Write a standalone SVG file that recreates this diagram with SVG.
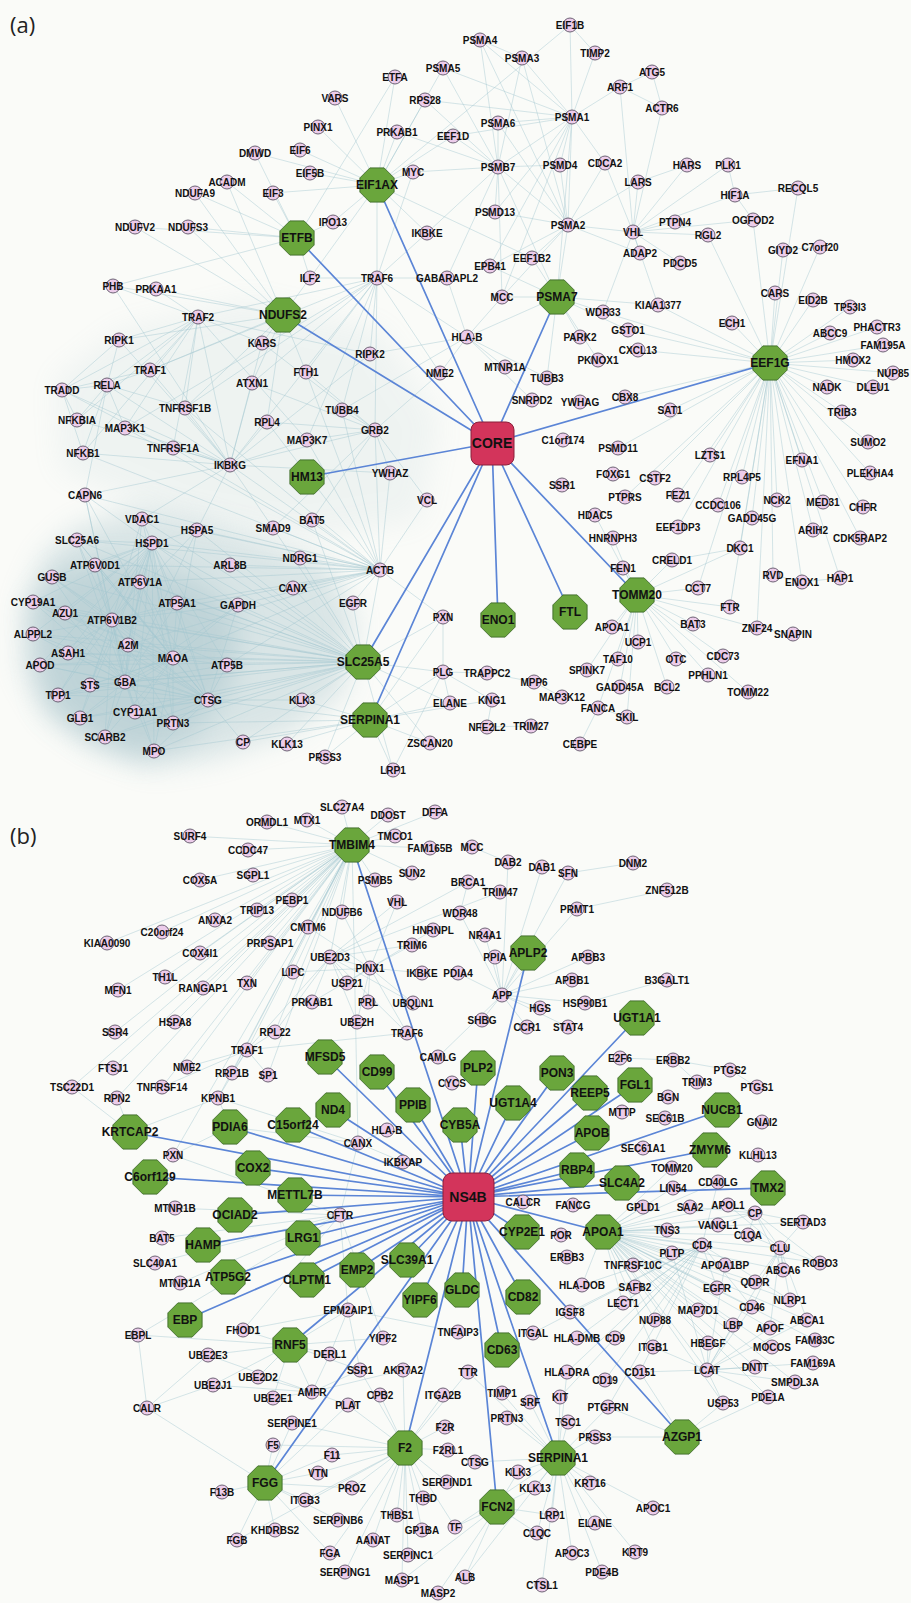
<svg xmlns="http://www.w3.org/2000/svg" xmlns:xlink="http://www.w3.org/1999/xlink" width="911" height="1603" viewBox="0 0 911 1603">
<style>
.n circle{fill:#ecccea;stroke:#5d5566;stroke-width:.9}
.n text{font:bold 10px "Liberation Sans",Arial,sans-serif;fill:#111;text-anchor:middle;dominant-baseline:central}
.g use{fill:#6aa63c;stroke:#3d6b28;stroke-width:.9}
.g text{font:bold 12px "Liberation Sans",Arial,sans-serif;fill:#111;text-anchor:middle;dominant-baseline:central}
.hub rect{fill:#d3345b;stroke:#8a1f3a;stroke-width:1}
.hub text{font:bold 14px "Liberation Sans",Arial,sans-serif;fill:#111;text-anchor:middle;dominant-baseline:central}
.e{fill:none;stroke:#a3c6d0;stroke-width:.6;opacity:.75}
.h{fill:none;stroke:#5b85d6;stroke-width:1.7}
.blob{fill:#8fb3bd;filter:url(#bl)}
.pl{font:22px "Open Sans","Liberation Sans",sans-serif;fill:#222}
</style>
<defs>
<polygon id="oct" points="17.1,7.1 7.1,17.1 -7.1,17.1 -17.1,7.1 -17.1,-7.1 -7.1,-17.1 7.1,-17.1 17.1,-7.1"/>
<filter id="bl" x="-20%" y="-20%" width="140%" height="140%"><feGaussianBlur stdDeviation="14"/></filter>
</defs>
<rect width="911" height="1603" fill="#fafbf8"/>
<text class="pl" x="10" y="33">(a)</text>
<text class="pl" x="10" y="844">(b)</text>
<g id="connectors">
<polygon class="blob" opacity=".3" points="25,600 45,555 75,528 140,508 200,520 260,540 330,565 355,620 345,690 295,730 215,758 150,768 95,748 50,718 22,670"/>
<polygon class="blob" opacity=".35" points="30,610 60,570 120,560 200,580 240,620 230,690 190,740 140,758 90,740 45,705"/>
<polygon class="blob" opacity=".1" points="55,380 120,330 250,300 380,330 440,420 420,520 300,540 180,520 60,470"/>
<path class="e" d="M770 363L775 293M770 363L813 300M770 363L850 307M770 363L830 333M770 363L877 327M770 363L883 345M770 363L853 360M770 363L895 373M770 363L827 387M770 363L873 387M770 363L842 412M770 363L868 442M770 363L802 460M770 363L870 473M770 363L823 502M770 363L863 507M770 363L777 500M770 363L813 530M770 363L860 538M770 363L752 518M770 363L718 505M770 363L742 477M770 363L710 455M770 363L670 410M770 363L678 495M770 363L655 478M770 363L732 323M770 363L658 305M770 363L638 350M770 363L628 330M770 363L740 548M770 363L698 588M770 363L730 607M770 363L773 575M770 363L802 582M770 363L678 527M770 363L618 448M770 363L625 397M770 363L625 497M770 363L840 578M770 363L757 628M770 363L798 188M770 363L753 220M770 363L783 250M770 363L820 247M770 363L708 235M770 363L603 312"/>
<path class="e" d="M363 662L177 603M363 662L227 665M363 662L173 658M363 662L238 605M363 662L293 588M363 662L353 603M363 662L380 570M363 662L300 558M363 662L230 565M363 662L140 582M363 662L112 620M363 662L128 645M363 662L125 682M363 662L90 685M363 662L135 712M363 662L173 723M363 662L154 751M363 662L208 700M363 662L152 543M363 662L142 519M363 662L197 530M363 662L302 700M363 662L77 540M363 662L95 565M363 662L243 742M363 662L287 744M363 662L325 757M363 662L58 695M363 662L68 653M363 662L80 718M363 662L105 737M363 662L65 613M363 662L40 665M363 662L33 634M363 662L52 577M363 662L33 602M363 662L443 617M363 662L443 672M363 662L450 703M363 662L393 770M363 662L430 743M363 662L273 528M363 662L312 520"/>
<path class="e" d="M380 570L152 543M380 570L142 519M380 570L197 530M380 570L293 588M380 570L238 605M380 570L230 565M380 570L300 558M380 570L312 520M380 570L273 528M380 570L390 473M380 570L427 500M380 570L375 430M380 570L307 440M380 570L230 465M380 570L173 448M380 570L267 422M380 570L177 603M380 570L140 582M380 570L95 565M380 570L77 540M380 570L85 495M380 570L342 410M380 570L353 603M380 570L443 617M380 570L227 665M380 570L173 658M380 570L306 372M380 570L185 408M380 570L125 428M380 570L83 453M380 570L112 620M380 570L128 645"/>
<path class="e" d="M173 658L77 540M173 658L152 543M173 658L95 565M173 658L52 577M173 658L140 582M173 658L33 602M173 658L65 613M173 658L177 603M173 658L112 620M173 658L33 634M173 658L128 645M173 658L68 653M173 658L40 665M173 658L90 685M173 658L125 682M173 658L58 695M173 658L135 712M173 658L80 718M173 658L173 723M173 658L105 737M173 658L154 751M173 658L208 700M173 658L227 665M173 658L238 605M173 658L85 495M173 658L142 519M173 658L197 530"/>
<path class="e" d="M125 682L77 540M125 682L152 543M125 682L95 565M125 682L52 577M125 682L140 582M125 682L33 602M125 682L65 613M125 682L177 603M125 682L112 620M125 682L33 634M125 682L128 645M125 682L68 653M125 682L40 665M125 682L90 685M125 682L58 695M125 682L135 712M125 682L80 718M125 682L173 723M125 682L105 737M125 682L154 751M125 682L208 700M125 682L227 665M125 682L238 605M125 682L85 495M125 682L142 519M125 682L197 530"/>
<path class="e" d="M112 620L77 540M112 620L152 543M112 620L95 565M112 620L52 577M112 620L140 582M112 620L33 602M112 620L65 613M112 620L177 603M112 620L33 634M112 620L128 645M112 620L68 653M112 620L40 665M112 620L90 685M112 620L58 695M112 620L135 712M112 620L80 718M112 620L173 723M112 620L105 737M112 620L154 751M112 620L208 700M112 620L227 665M112 620L238 605M112 620L85 495M112 620L142 519M112 620L197 530"/>
<path class="e" d="M152 543L77 540M152 543L95 565M152 543L52 577M152 543L140 582M152 543L33 602M152 543L65 613M152 543L177 603M152 543L33 634M152 543L128 645M152 543L68 653M152 543L40 665M152 543L90 685M152 543L58 695M152 543L135 712M152 543L80 718M152 543L173 723M152 543L105 737M152 543L154 751M152 543L208 700M152 543L227 665M152 543L238 605M152 543L85 495M152 543L142 519M152 543L197 530"/>
<path class="e" d="M208 700L77 540M208 700L95 565M208 700L52 577M208 700L140 582M208 700L33 602M208 700L65 613M208 700L177 603M208 700L33 634M208 700L128 645M208 700L68 653M208 700L40 665M208 700L90 685M208 700L58 695M208 700L135 712M208 700L80 718M208 700L173 723M208 700L105 737M208 700L154 751M208 700L227 665M208 700L238 605M208 700L302 700M208 700L243 742"/>
<path class="e" d="M198 317L119 340M198 317L62 390M198 317L150 370M198 317L185 408M198 317L173 448M198 317L125 428M198 317L230 465M198 317L370 354M198 317L307 440M198 317L377 278M198 317L83 453M198 317L107 385M198 317L156 289M198 317L113 286M198 317L77 420M198 317L262 343"/>
<path class="e" d="M230 465L77 420M230 465L83 453M230 465L107 385M230 465L62 390M230 465L125 428M230 465L307 440M230 465L119 340M230 465L370 354M230 465L377 278M230 465L173 448M230 465L185 408M230 465L150 370M230 465L252 383M230 465L267 422M230 465L197 530M230 465L142 519M230 465L85 495M230 465L390 473M230 465L375 430M230 465L273 528M230 465L262 343M230 465L113 286"/>
<path class="e" d="M377 278L307 440M377 278L370 354M377 278L150 370M377 278L185 408M377 278L125 428M377 278L310 278M377 278L447 278M377 278L440 373M377 278L467 337M377 278L342 410M377 278L375 430M377 278L252 383M377 278L306 372M377 278L427 233M377 278L413 172"/>
<path class="e" d="M375 430L390 473M375 430L342 410M375 430L427 500M375 430L273 528M375 430L440 373M375 430L307 440M375 430L252 383M375 430L262 343M375 430L306 372M375 430L312 520M375 430L267 422"/>
<path class="e" d="M283 315L195 193M283 315L135 227M283 315L188 227M283 315L227 182M283 315L262 343M283 315L310 278M283 315L306 372M283 315L119 340M283 315L113 286M283 315L156 289M283 315L252 383M283 315L267 422M283 315L185 408M283 315L150 370"/>
<path class="e" d="M297 238L395 77M297 238L227 182M297 238L195 193M297 238L188 227M297 238L135 227M297 238L255 153M297 238L273 193M297 238L333 222M297 238L310 278M297 238L113 286"/>
<path class="e" d="M62 390L119 340M62 390L107 385M62 390L77 420M62 390L173 448M62 390L83 453M62 390L150 370M107 385L77 420M107 385L83 453M107 385L125 428M107 385L119 340M107 385L150 370M107 385L185 408M107 385L85 495"/>
<path class="e" d="M377 185L273 193M377 185L310 173M377 185L300 150M377 185L318 127M377 185L335 98M377 185L395 77M377 185L425 100M377 185L397 132M377 185L413 172M377 185L453 136M377 185L333 222M377 185L427 233M377 185L570 25M377 185L532 258M377 185L443 68M377 185L255 153M377 185L310 278M377 185L377 278"/>
<path class="e" d="M572 117L480 40M572 117L522 58M572 117L443 68M572 117L498 123M572 117L498 167M572 117L560 165M572 117L495 212M572 117L568 225M572 117L557 297M572 117L570 25M572 117L595 53M572 117L605 163M572 117L453 136M572 117L490 266M572 117L502 297M572 117L425 100M572 117L620 87"/>
<path class="e" d="M498 167L480 40M498 167L522 58M498 167L443 68M498 167L498 123M498 167L560 165M498 167L495 212M498 167L568 225M498 167L557 297M498 167L453 136M498 167L425 100M498 167L502 297M498 167L447 278M498 167L427 233M498 167L413 172M498 167L397 132"/>
<path class="e" d="M568 225L522 58M568 225L498 123M568 225L560 165M568 225L495 212M568 225L557 297M568 225L633 232M568 225L640 253M568 225L638 182M568 225L605 163M568 225L532 258M568 225L490 266M568 225L502 297M568 225L480 40"/>
<path class="e" d="M633 232L735 195M633 232L675 222M633 232L708 235M633 232L680 263M633 232L640 253M633 232L753 220M633 232L638 182M633 232L687 165M633 232L728 165M633 232L620 87M633 232L662 108M633 232L605 163M633 232L603 312M633 232L658 305M620 87L652 72M652 72L662 108M620 87L662 108M687 165L638 182M728 165L735 195M735 195L798 188M570 25L595 53M480 40L522 58M735 195L753 220M783 250L820 247"/>
<path class="e" d="M467 337L440 373M467 337L505 367M467 337L547 378M467 337L532 400M467 337L370 354M467 337L447 278M467 337L502 297M467 337L342 410M467 337L557 297M557 297L603 312M557 297L580 337M557 297L598 360M557 297L628 330M557 297L502 297M557 297L547 378M557 297L490 266M557 297L532 258M557 297L658 305"/>
<path class="e" d="M370 720L450 703M370 720L302 700M370 720L287 744M370 720L325 757M370 720L208 700M370 720L443 672M370 720L393 770M370 720L430 743M370 720L492 700M370 720L243 742M370 720L173 723M370 720L154 751M370 720L443 617M443 672L492 700M443 672L450 703M443 672L487 673M443 672L443 617M443 672L393 770"/>
<path class="e" d="M637 595L623 568M637 595L672 560M637 595L698 588M637 595L730 607M637 595L693 624M637 595L612 627M637 595L638 642M637 595L618 659M637 595L676 659M637 595L723 656M637 595L587 670M637 595L620 687M637 595L667 687M637 595L708 675M637 595L748 692M637 595L757 628M637 595L740 548M637 595L613 538M637 595L595 515M637 595L627 717M637 595L598 708M773 575L802 582M840 578L802 582M740 548L672 560M793 634L757 628M562 697L534 682M531 726L487 727M492 700L487 727M580 744L598 708M627 717L598 708M487 673L534 682"/>
<path class="e" d="M352 845L190 836M352 845L248 850M352 845L200 880M352 845L253 875M352 845L292 900M352 845L257 910M352 845L215 920M352 845L162 932M352 845L107 943M352 845L200 953M352 845L270 943M352 845L308 927M352 845L342 912M352 845L165 977M352 845L118 990M352 845L203 988M352 845L247 983M352 845L293 972M352 845L115 1032M352 845L175 1022M352 845L275 1032M352 845L113 1068M352 845L72 1087M352 845L267 822M352 845L307 820M352 845L342 807M352 845L388 815M352 845L435 812M352 845L395 836M352 845L430 848M352 845L375 880M352 845L412 873M352 845L330 957M352 845L187 1067M352 845L162 1087M352 845L117 1098M352 845L218 1098M352 845L173 1155M352 845L358 1143M352 845L232 1073M352 845L268 1075M352 845L247 1050"/>
<path class="e" d="M370 968L347 983M370 968L330 957M370 968L293 972M370 968L312 1002M370 968L368 1002M370 968L413 1003M370 968L422 973M370 968L412 945M370 968L433 930M370 968L397 902M370 968L342 912M370 968L308 927M370 968L357 1022M370 968L407 1033M330 957L412 945M330 957L407 1033M330 957L357 1022M330 957L347 983M330 957L397 902M330 957L468 882M330 957L500 892M330 957L413 1003M330 957L312 1002M330 957L275 1032M330 957L247 1050"/>
<path class="e" d="M502 995L528 953M502 995L572 980M502 995L588 957M502 995L585 1003M502 995L540 1008M502 995L495 957M502 995L482 1020M502 995L485 935M502 995L568 1027M502 995L527 1027M502 995L577 909M502 995L542 867M502 995L508 862M502 995L568 873M502 995L458 973M502 995L460 913M502 995L438 1057M472 847L508 862M468 882L500 892M468 882L460 913M667 890L577 909M667 980L585 1003M620 1058L673 1060M673 1060L730 1070M730 1070L757 1087M697 1082L673 1060M568 873L633 863"/>
<path class="e" d="M247 1050L187 1067M247 1050L232 1073M247 1050L268 1075M247 1050L275 1032M247 1050L162 1087M247 1050L218 1098M247 1050L407 1033M358 1143L387 1130M358 1143L403 1162M358 1143L340 1215M358 1143L218 1098M340 1215L175 1208M340 1215L162 1238M340 1215L155 1263M340 1215L180 1283M340 1215L173 1155M340 1215L348 1310M340 1215L243 1330M340 1215L138 1335M340 1215L383 1338M348 1310L458 1332M348 1310L330 1354M348 1310L243 1330M348 1310L360 1370M130 1132L117 1098M130 1132L72 1087M130 1132L218 1098M230 1127L358 1143M230 1127L218 1098M230 1127L173 1155"/>
<path class="e" d="M603 1232L728 1205M603 1232L755 1213M603 1232L748 1235M603 1232L780 1248M603 1232L702 1245M603 1232L672 1253M603 1232L707 1370M603 1232L770 1328M603 1232L807 1320M603 1232L733 1325M603 1232L725 1265M603 1232L667 1230M603 1232L690 1207M603 1232L643 1207M603 1232L783 1270M603 1232L755 1282M603 1232L752 1307M603 1232L790 1300M603 1232L718 1225M603 1232L717 1288M603 1232L633 1265M603 1232L635 1287M603 1232L582 1285M603 1232L623 1303M603 1232L698 1310M603 1232L655 1320M603 1232L653 1347M603 1232L708 1343M603 1232L772 1347M603 1232L815 1340M603 1232L795 1382M603 1232L755 1367M603 1232L723 1403M603 1232L768 1397M603 1232L803 1222M603 1232L820 1263M603 1232L718 1182M603 1232L673 1188M603 1232L672 1168"/>
<path class="e" d="M707 1370L770 1328M707 1370L807 1320M707 1370L733 1325M707 1370L780 1248M707 1370L672 1253M707 1370L725 1265M707 1370L752 1307M707 1370L755 1367M707 1370L813 1363M707 1370L795 1382M707 1370L768 1397M707 1370L723 1403M707 1370L640 1372M707 1370L653 1347M707 1370L708 1343M702 1245L582 1285M702 1245L577 1338M702 1245L567 1372M702 1245L615 1338M702 1245L605 1380M702 1245L533 1333M702 1245L570 1312M702 1245L623 1303M702 1245L717 1288M702 1245L790 1300M702 1245L752 1307M702 1245L718 1182M702 1245L640 1372M702 1245L560 1397M702 1245L608 1407"/>
<path class="e" d="M755 1213L748 1235M755 1213L780 1248M755 1213L728 1205M755 1213L803 1222M755 1213L820 1263M755 1213L783 1270M755 1213L718 1225M755 1213L690 1207M780 1248L783 1270M780 1248L807 1320M780 1248L770 1328M780 1248L755 1282M780 1248L790 1300M780 1248L752 1307M780 1248L820 1263M780 1248L803 1222M780 1248L748 1235M780 1248L728 1205"/>
<path class="e" d="M405 1448L445 1427M405 1448L448 1450M405 1448L273 1445M405 1448L332 1455M405 1448L423 1498M405 1448L408 1555M405 1448L447 1482M405 1448L397 1515M405 1448L352 1488M405 1448L318 1473M405 1448L422 1530M405 1448L348 1405M405 1448L380 1395M405 1448L443 1395M405 1448L305 1500M405 1448L330 1553M405 1448L237 1540M405 1448L292 1423M405 1448L455 1527M405 1448L373 1540M405 1448L402 1580M405 1448L345 1572M405 1448L360 1370M405 1448L403 1370M405 1448L468 1372"/>
<path class="e" d="M265 1483L330 1553M265 1483L237 1540M265 1483L222 1492M265 1483L305 1500M265 1483L318 1473M265 1483L275 1530M265 1483L338 1520M265 1483L273 1445M265 1483L332 1455M265 1483L348 1405M265 1483L292 1423M265 1483L352 1488M265 1483L147 1408M290 1345L208 1355M290 1345L258 1377M290 1345L213 1385M290 1345L312 1392M290 1345L273 1398M290 1345L330 1354M290 1345L360 1370M290 1345L243 1330M290 1345L138 1335M290 1345L348 1310M290 1345L383 1338M312 1392L258 1377M312 1392L273 1398M312 1392L213 1385M312 1392L330 1354M312 1392L208 1355M312 1392L360 1370M312 1392L403 1370M312 1392L348 1405M147 1408L138 1335M147 1408L213 1385M147 1408L208 1355"/>
<path class="e" d="M558 1458L475 1462M558 1458L518 1472M558 1458L535 1488M558 1458L590 1483M558 1458L595 1523M558 1458L552 1515M558 1458L507 1418M558 1458L595 1437M558 1458L568 1422M558 1458L560 1397M558 1458L530 1402M558 1458L502 1393M558 1458L653 1508M558 1458L537 1533M558 1458L465 1577M558 1458L455 1527M558 1458L542 1585M558 1458L572 1553M558 1458L635 1552M558 1458L602 1572M558 1458L468 1372M558 1458L567 1372M558 1458L608 1407M497 1507L537 1533M497 1507L552 1515M497 1507L455 1527M497 1507L465 1577M497 1507L402 1580M497 1507L438 1593M497 1507L535 1488M497 1507L518 1472M682 1437L723 1403M682 1437L608 1407M682 1437L640 1372M682 1437L595 1437M682 1437L768 1397"/>
<path class="h" d="M492 443L377 185M492 443L297 238M492 443L283 315M492 443L557 297M492 443L770 363M492 443L307 477M492 443L363 662M492 443L370 720M492 443L498 620M492 443L570 612M492 443L637 595"/>
<path class="h" d="M468 1197L352 845M468 1197L528 953M468 1197L637 1018M468 1197L325 1057M468 1197L377 1072M468 1197L478 1068M468 1197L557 1073M468 1197L635 1085M468 1197L590 1093M468 1197L513 1103M468 1197L333 1110M468 1197L413 1105M468 1197L460 1125M468 1197L722 1110M468 1197L130 1132M468 1197L230 1127M468 1197L293 1125M468 1197L592 1133M468 1197L710 1150M468 1197L253 1168M468 1197L577 1170M468 1197L150 1177M468 1197L622 1183M468 1197L768 1188M468 1197L295 1195M468 1197L235 1215M468 1197L522 1232M468 1197L603 1232M468 1197L203 1245M468 1197L303 1238M468 1197L407 1260M468 1197L357 1270M468 1197L228 1277M468 1197L307 1280M468 1197L462 1290M468 1197L523 1297M468 1197L420 1300M468 1197L185 1320M468 1197L290 1345M468 1197L502 1350M468 1197L682 1437M468 1197L405 1448M468 1197L558 1458M468 1197L265 1483M468 1197L497 1507"/>
</g>
<g id="nodes-a">
<g id="a-ETFA" class="n"><circle cx="395" cy="77" r="7"/><text x="395" y="77">ETFA</text></g>
<g id="a-PSMA5" class="n"><circle cx="443" cy="68" r="7"/><text x="443" y="68">PSMA5</text></g>
<g id="a-VARS" class="n"><circle cx="335" cy="98" r="7"/><text x="335" y="98">VARS</text></g>
<g id="a-RPS28" class="n"><circle cx="425" cy="100" r="7"/><text x="425" y="100">RPS28</text></g>
<g id="a-PINX1" class="n"><circle cx="318" cy="127" r="7"/><text x="318" y="127">PINX1</text></g>
<g id="a-PRKAB1" class="n"><circle cx="397" cy="132" r="7"/><text x="397" y="132">PRKAB1</text></g>
<g id="a-EEF1D" class="n"><circle cx="453" cy="136" r="7"/><text x="453" y="136">EEF1D</text></g>
<g id="a-DMWD" class="n"><circle cx="255" cy="153" r="7"/><text x="255" y="153">DMWD</text></g>
<g id="a-EIF6" class="n"><circle cx="300" cy="150" r="7"/><text x="300" y="150">EIF6</text></g>
<g id="a-EIF5B" class="n"><circle cx="310" cy="173" r="7"/><text x="310" y="173">EIF5B</text></g>
<g id="a-MYC" class="n"><circle cx="413" cy="172" r="7"/><text x="413" y="172">MYC</text></g>
<g id="a-ACADM" class="n"><circle cx="227" cy="182" r="7"/><text x="227" y="182">ACADM</text></g>
<g id="a-NDUFA9" class="n"><circle cx="195" cy="193" r="7"/><text x="195" y="193">NDUFA9</text></g>
<g id="a-EIF3" class="n"><circle cx="273" cy="193" r="7"/><text x="273" y="193">EIF3</text></g>
<g id="a-IPO13" class="n"><circle cx="333" cy="222" r="7"/><text x="333" y="222">IPO13</text></g>
<g id="a-NDUFV2" class="n"><circle cx="135" cy="227" r="7"/><text x="135" y="227">NDUFV2</text></g>
<g id="a-NDUFS3" class="n"><circle cx="188" cy="227" r="7"/><text x="188" y="227">NDUFS3</text></g>
<g id="a-IKBKE" class="n"><circle cx="427" cy="233" r="7"/><text x="427" y="233">IKBKE</text></g>
<g id="a-EIF1B" class="n"><circle cx="570" cy="25" r="7"/><text x="570" y="25">EIF1B</text></g>
<g id="a-PSMA4" class="n"><circle cx="480" cy="40" r="7"/><text x="480" y="40">PSMA4</text></g>
<g id="a-PSMA3" class="n"><circle cx="522" cy="58" r="7"/><text x="522" y="58">PSMA3</text></g>
<g id="a-TIMP2" class="n"><circle cx="595" cy="53" r="7"/><text x="595" y="53">TIMP2</text></g>
<g id="a-ATG5" class="n"><circle cx="652" cy="72" r="7"/><text x="652" y="72">ATG5</text></g>
<g id="a-ARF1" class="n"><circle cx="620" cy="87" r="7"/><text x="620" y="87">ARF1</text></g>
<g id="a-ACTR6" class="n"><circle cx="662" cy="108" r="7"/><text x="662" y="108">ACTR6</text></g>
<g id="a-PSMA1" class="n"><circle cx="572" cy="117" r="7"/><text x="572" y="117">PSMA1</text></g>
<g id="a-PSMA6" class="n"><circle cx="498" cy="123" r="7"/><text x="498" y="123">PSMA6</text></g>
<g id="a-PSMB7" class="n"><circle cx="498" cy="167" r="7"/><text x="498" y="167">PSMB7</text></g>
<g id="a-PSMD4" class="n"><circle cx="560" cy="165" r="7"/><text x="560" y="165">PSMD4</text></g>
<g id="a-CDCA2" class="n"><circle cx="605" cy="163" r="7"/><text x="605" y="163">CDCA2</text></g>
<g id="a-LARS" class="n"><circle cx="638" cy="182" r="7"/><text x="638" y="182">LARS</text></g>
<g id="a-HARS" class="n"><circle cx="687" cy="165" r="7"/><text x="687" y="165">HARS</text></g>
<g id="a-PLK1" class="n"><circle cx="728" cy="165" r="7"/><text x="728" y="165">PLK1</text></g>
<g id="a-HIF1A" class="n"><circle cx="735" cy="195" r="7"/><text x="735" y="195">HIF1A</text></g>
<g id="a-RECQL5" class="n"><circle cx="798" cy="188" r="7"/><text x="798" y="188">RECQL5</text></g>
<g id="a-PSMD13" class="n"><circle cx="495" cy="212" r="7"/><text x="495" y="212">PSMD13</text></g>
<g id="a-PSMA2" class="n"><circle cx="568" cy="225" r="7"/><text x="568" y="225">PSMA2</text></g>
<g id="a-PTPN4" class="n"><circle cx="675" cy="222" r="7"/><text x="675" y="222">PTPN4</text></g>
<g id="a-OGFOD2" class="n"><circle cx="753" cy="220" r="7"/><text x="753" y="220">OGFOD2</text></g>
<g id="a-VHL" class="n"><circle cx="633" cy="232" r="7"/><text x="633" y="232">VHL</text></g>
<g id="a-RGL2" class="n"><circle cx="708" cy="235" r="7"/><text x="708" y="235">RGL2</text></g>
<g id="a-ADAP2" class="n"><circle cx="640" cy="253" r="7"/><text x="640" y="253">ADAP2</text></g>
<g id="a-PDCD5" class="n"><circle cx="680" cy="263" r="7"/><text x="680" y="263">PDCD5</text></g>
<g id="a-GIYD2" class="n"><circle cx="783" cy="250" r="7"/><text x="783" y="250">GIYD2</text></g>
<g id="a-C7orf20" class="n"><circle cx="820" cy="247" r="7"/><text x="820" y="247">C7orf20</text></g>
<g id="a-EEF1B2" class="n"><circle cx="532" cy="258" r="7"/><text x="532" y="258">EEF1B2</text></g>
<g id="a-EPB41" class="n"><circle cx="490" cy="266" r="7"/><text x="490" y="266">EPB41</text></g>
<g id="a-PHB" class="n"><circle cx="113" cy="286" r="7"/><text x="113" y="286">PHB</text></g>
<g id="a-PRKAA1" class="n"><circle cx="156" cy="289" r="7"/><text x="156" y="289">PRKAA1</text></g>
<g id="a-ILF2" class="n"><circle cx="310" cy="278" r="7"/><text x="310" y="278">ILF2</text></g>
<g id="a-TRAF6" class="n"><circle cx="377" cy="278" r="7"/><text x="377" y="278">TRAF6</text></g>
<g id="a-GABARAPL2" class="n"><circle cx="447" cy="278" r="7"/><text x="447" y="278">GABARAPL2</text></g>
<g id="a-TRAF2" class="n"><circle cx="198" cy="317" r="7"/><text x="198" y="317">TRAF2</text></g>
<g id="a-RIPK1" class="n"><circle cx="119" cy="340" r="7"/><text x="119" y="340">RIPK1</text></g>
<g id="a-KARS" class="n"><circle cx="262" cy="343" r="7"/><text x="262" y="343">KARS</text></g>
<g id="a-RIPK2" class="n"><circle cx="370" cy="354" r="7"/><text x="370" y="354">RIPK2</text></g>
<g id="a-TRAF1" class="n"><circle cx="150" cy="370" r="7"/><text x="150" y="370">TRAF1</text></g>
<g id="a-FTH1" class="n"><circle cx="306" cy="372" r="7"/><text x="306" y="372">FTH1</text></g>
<g id="a-NME2" class="n"><circle cx="440" cy="373" r="7"/><text x="440" y="373">NME2</text></g>
<g id="a-TRADD" class="n"><circle cx="62" cy="390" r="7"/><text x="62" y="390">TRADD</text></g>
<g id="a-RELA" class="n"><circle cx="107" cy="385" r="7"/><text x="107" y="385">RELA</text></g>
<g id="a-ATXN1" class="n"><circle cx="252" cy="383" r="7"/><text x="252" y="383">ATXN1</text></g>
<g id="a-TNFRSF1B" class="n"><circle cx="185" cy="408" r="7"/><text x="185" y="408">TNFRSF1B</text></g>
<g id="a-TUBB4" class="n"><circle cx="342" cy="410" r="7"/><text x="342" y="410">TUBB4</text></g>
<g id="a-NFKBIA" class="n"><circle cx="77" cy="420" r="7"/><text x="77" y="420">NFKBIA</text></g>
<g id="a-MAP3K1" class="n"><circle cx="125" cy="428" r="7"/><text x="125" y="428">MAP3K1</text></g>
<g id="a-RPL4" class="n"><circle cx="267" cy="422" r="7"/><text x="267" y="422">RPL4</text></g>
<g id="a-GRB2" class="n"><circle cx="375" cy="430" r="7"/><text x="375" y="430">GRB2</text></g>
<g id="a-MAP3K7" class="n"><circle cx="307" cy="440" r="7"/><text x="307" y="440">MAP3K7</text></g>
<g id="a-NFKB1" class="n"><circle cx="83" cy="453" r="7"/><text x="83" y="453">NFKB1</text></g>
<g id="a-TNFRSF1A" class="n"><circle cx="173" cy="448" r="7"/><text x="173" y="448">TNFRSF1A</text></g>
<g id="a-IKBKG" class="n"><circle cx="230" cy="465" r="7"/><text x="230" y="465">IKBKG</text></g>
<g id="a-YWHAZ" class="n"><circle cx="390" cy="473" r="7"/><text x="390" y="473">YWHAZ</text></g>
<g id="a-VCL" class="n"><circle cx="427" cy="500" r="7"/><text x="427" y="500">VCL</text></g>
<g id="a-CAPN6" class="n"><circle cx="85" cy="495" r="7"/><text x="85" y="495">CAPN6</text></g>
<g id="a-VDAC1" class="n"><circle cx="142" cy="519" r="7"/><text x="142" y="519">VDAC1</text></g>
<g id="a-HSPA5" class="n"><circle cx="197" cy="530" r="7"/><text x="197" y="530">HSPA5</text></g>
<g id="a-SMAD9" class="n"><circle cx="273" cy="528" r="7"/><text x="273" y="528">SMAD9</text></g>
<g id="a-BAT5" class="n"><circle cx="312" cy="520" r="7"/><text x="312" y="520">BAT5</text></g>
<g id="a-SLC25A6" class="n"><circle cx="77" cy="540" r="7"/><text x="77" y="540">SLC25A6</text></g>
<g id="a-HSPD1" class="n"><circle cx="152" cy="543" r="7"/><text x="152" y="543">HSPD1</text></g>
<g id="a-NDRG1" class="n"><circle cx="300" cy="558" r="7"/><text x="300" y="558">NDRG1</text></g>
<g id="a-ATP6V0D1" class="n"><circle cx="95" cy="565" r="7"/><text x="95" y="565">ATP6V0D1</text></g>
<g id="a-ARL8B" class="n"><circle cx="230" cy="565" r="7"/><text x="230" y="565">ARL8B</text></g>
<g id="a-ACTB" class="n"><circle cx="380" cy="570" r="7"/><text x="380" y="570">ACTB</text></g>
<g id="a-GUSB" class="n"><circle cx="52" cy="577" r="7"/><text x="52" y="577">GUSB</text></g>
<g id="a-ATP6V1A" class="n"><circle cx="140" cy="582" r="7"/><text x="140" y="582">ATP6V1A</text></g>
<g id="a-CANX" class="n"><circle cx="293" cy="588" r="7"/><text x="293" y="588">CANX</text></g>
<g id="a-CYP19A1" class="n"><circle cx="33" cy="602" r="7"/><text x="33" y="602">CYP19A1</text></g>
<g id="a-AZU1" class="n"><circle cx="65" cy="613" r="7"/><text x="65" y="613">AZU1</text></g>
<g id="a-ATP5A1" class="n"><circle cx="177" cy="603" r="7"/><text x="177" y="603">ATP5A1</text></g>
<g id="a-GAPDH" class="n"><circle cx="238" cy="605" r="7"/><text x="238" y="605">GAPDH</text></g>
<g id="a-EGFR" class="n"><circle cx="353" cy="603" r="7"/><text x="353" y="603">EGFR</text></g>
<g id="a-ATP6V1B2" class="n"><circle cx="112" cy="620" r="7"/><text x="112" y="620">ATP6V1B2</text></g>
<g id="a-PXN" class="n"><circle cx="443" cy="617" r="7"/><text x="443" y="617">PXN</text></g>
<g id="a-ALPPL2" class="n"><circle cx="33" cy="634" r="7"/><text x="33" y="634">ALPPL2</text></g>
<g id="a-A2M" class="n"><circle cx="128" cy="645" r="7"/><text x="128" y="645">A2M</text></g>
<g id="a-ASAH1" class="n"><circle cx="68" cy="653" r="7"/><text x="68" y="653">ASAH1</text></g>
<g id="a-MAOA" class="n"><circle cx="173" cy="658" r="7"/><text x="173" y="658">MAOA</text></g>
<g id="a-ATP5B" class="n"><circle cx="227" cy="665" r="7"/><text x="227" y="665">ATP5B</text></g>
<g id="a-APOD" class="n"><circle cx="40" cy="665" r="7"/><text x="40" y="665">APOD</text></g>
<g id="a-STS" class="n"><circle cx="90" cy="685" r="7"/><text x="90" y="685">STS</text></g>
<g id="a-GBA" class="n"><circle cx="125" cy="682" r="7"/><text x="125" y="682">GBA</text></g>
<g id="a-PLG" class="n"><circle cx="443" cy="672" r="7"/><text x="443" y="672">PLG</text></g>
<g id="a-TPP1" class="n"><circle cx="58" cy="695" r="7"/><text x="58" y="695">TPP1</text></g>
<g id="a-CTSG" class="n"><circle cx="208" cy="700" r="7"/><text x="208" y="700">CTSG</text></g>
<g id="a-KLK3" class="n"><circle cx="302" cy="700" r="7"/><text x="302" y="700">KLK3</text></g>
<g id="a-ELANE" class="n"><circle cx="450" cy="703" r="7"/><text x="450" y="703">ELANE</text></g>
<g id="a-CYP11A1" class="n"><circle cx="135" cy="712" r="7"/><text x="135" y="712">CYP11A1</text></g>
<g id="a-GLB1" class="n"><circle cx="80" cy="718" r="7"/><text x="80" y="718">GLB1</text></g>
<g id="a-PRTN3" class="n"><circle cx="173" cy="723" r="7"/><text x="173" y="723">PRTN3</text></g>
<g id="a-SCARB2" class="n"><circle cx="105" cy="737" r="7"/><text x="105" y="737">SCARB2</text></g>
<g id="a-CP" class="n"><circle cx="243" cy="742" r="7"/><text x="243" y="742">CP</text></g>
<g id="a-KLK13" class="n"><circle cx="287" cy="744" r="7"/><text x="287" y="744">KLK13</text></g>
<g id="a-ZSCAN20" class="n"><circle cx="430" cy="743" r="7"/><text x="430" y="743">ZSCAN20</text></g>
<g id="a-MPO" class="n"><circle cx="154" cy="751" r="7"/><text x="154" y="751">MPO</text></g>
<g id="a-PRSS3" class="n"><circle cx="325" cy="757" r="7"/><text x="325" y="757">PRSS3</text></g>
<g id="a-LRP1" class="n"><circle cx="393" cy="770" r="7"/><text x="393" y="770">LRP1</text></g>
<g id="a-MCC" class="n"><circle cx="502" cy="297" r="7"/><text x="502" y="297">MCC</text></g>
<g id="a-CARS" class="n"><circle cx="775" cy="293" r="7"/><text x="775" y="293">CARS</text></g>
<g id="a-EID2B" class="n"><circle cx="813" cy="300" r="7"/><text x="813" y="300">EID2B</text></g>
<g id="a-TP53I3" class="n"><circle cx="850" cy="307" r="7"/><text x="850" y="307">TP53I3</text></g>
<g id="a-KIAA1377" class="n"><circle cx="658" cy="305" r="7"/><text x="658" y="305">KIAA1377</text></g>
<g id="a-WDR33" class="n"><circle cx="603" cy="312" r="7"/><text x="603" y="312">WDR33</text></g>
<g id="a-ECH1" class="n"><circle cx="732" cy="323" r="7"/><text x="732" y="323">ECH1</text></g>
<g id="a-GSTO1" class="n"><circle cx="628" cy="330" r="7"/><text x="628" y="330">GSTO1</text></g>
<g id="a-HLA-B" class="n"><circle cx="467" cy="337" r="7"/><text x="467" y="337">HLA-B</text></g>
<g id="a-PARK2" class="n"><circle cx="580" cy="337" r="7"/><text x="580" y="337">PARK2</text></g>
<g id="a-ABCC9" class="n"><circle cx="830" cy="333" r="7"/><text x="830" y="333">ABCC9</text></g>
<g id="a-PHACTR3" class="n"><circle cx="877" cy="327" r="7"/><text x="877" y="327">PHACTR3</text></g>
<g id="a-FAM195A" class="n"><circle cx="883" cy="345" r="7"/><text x="883" y="345">FAM195A</text></g>
<g id="a-CXCL13" class="n"><circle cx="638" cy="350" r="7"/><text x="638" y="350">CXCL13</text></g>
<g id="a-PKNOX1" class="n"><circle cx="598" cy="360" r="7"/><text x="598" y="360">PKNOX1</text></g>
<g id="a-HMOX2" class="n"><circle cx="853" cy="360" r="7"/><text x="853" y="360">HMOX2</text></g>
<g id="a-MTNR1A" class="n"><circle cx="505" cy="367" r="7"/><text x="505" y="367">MTNR1A</text></g>
<g id="a-TUBB3" class="n"><circle cx="547" cy="378" r="7"/><text x="547" y="378">TUBB3</text></g>
<g id="a-NUP85" class="n"><circle cx="893" cy="373" r="7"/><text x="893" y="373">NUP85</text></g>
<g id="a-NADK" class="n"><circle cx="827" cy="387" r="7"/><text x="827" y="387">NADK</text></g>
<g id="a-DLEU1" class="n"><circle cx="873" cy="387" r="7"/><text x="873" y="387">DLEU1</text></g>
<g id="a-SNRPD2" class="n"><circle cx="532" cy="400" r="7"/><text x="532" y="400">SNRPD2</text></g>
<g id="a-YWHAG" class="n"><circle cx="580" cy="402" r="7"/><text x="580" y="402">YWHAG</text></g>
<g id="a-CBX8" class="n"><circle cx="625" cy="397" r="7"/><text x="625" y="397">CBX8</text></g>
<g id="a-SAT1" class="n"><circle cx="670" cy="410" r="7"/><text x="670" y="410">SAT1</text></g>
<g id="a-TRIB3" class="n"><circle cx="842" cy="412" r="7"/><text x="842" y="412">TRIB3</text></g>
<g id="a-C1orf174" class="n"><circle cx="563" cy="440" r="7"/><text x="563" y="440">C1orf174</text></g>
<g id="a-SUMO2" class="n"><circle cx="868" cy="442" r="7"/><text x="868" y="442">SUMO2</text></g>
<g id="a-PSMD11" class="n"><circle cx="618" cy="448" r="7"/><text x="618" y="448">PSMD11</text></g>
<g id="a-LZTS1" class="n"><circle cx="710" cy="455" r="7"/><text x="710" y="455">LZTS1</text></g>
<g id="a-EFNA1" class="n"><circle cx="802" cy="460" r="7"/><text x="802" y="460">EFNA1</text></g>
<g id="a-FOXG1" class="n"><circle cx="613" cy="474" r="7"/><text x="613" y="474">FOXG1</text></g>
<g id="a-CSTF2" class="n"><circle cx="655" cy="478" r="7"/><text x="655" y="478">CSTF2</text></g>
<g id="a-RPL4P5" class="n"><circle cx="742" cy="477" r="7"/><text x="742" y="477">RPL4P5</text></g>
<g id="a-PLEKHA4" class="n"><circle cx="870" cy="473" r="7"/><text x="870" y="473">PLEKHA4</text></g>
<g id="a-SSR1" class="n"><circle cx="562" cy="485" r="7"/><text x="562" y="485">SSR1</text></g>
<g id="a-PTPRS" class="n"><circle cx="625" cy="497" r="7"/><text x="625" y="497">PTPRS</text></g>
<g id="a-FEZ1" class="n"><circle cx="678" cy="495" r="7"/><text x="678" y="495">FEZ1</text></g>
<g id="a-CCDC106" class="n"><circle cx="718" cy="505" r="7"/><text x="718" y="505">CCDC106</text></g>
<g id="a-NCK2" class="n"><circle cx="777" cy="500" r="7"/><text x="777" y="500">NCK2</text></g>
<g id="a-MED31" class="n"><circle cx="823" cy="502" r="7"/><text x="823" y="502">MED31</text></g>
<g id="a-CHFR" class="n"><circle cx="863" cy="507" r="7"/><text x="863" y="507">CHFR</text></g>
<g id="a-HDAC5" class="n"><circle cx="595" cy="515" r="7"/><text x="595" y="515">HDAC5</text></g>
<g id="a-GADD45G" class="n"><circle cx="752" cy="518" r="7"/><text x="752" y="518">GADD45G</text></g>
<g id="a-EEF1DP3" class="n"><circle cx="678" cy="527" r="7"/><text x="678" y="527">EEF1DP3</text></g>
<g id="a-ARIH2" class="n"><circle cx="813" cy="530" r="7"/><text x="813" y="530">ARIH2</text></g>
<g id="a-CDK5RAP2" class="n"><circle cx="860" cy="538" r="7"/><text x="860" y="538">CDK5RAP2</text></g>
<g id="a-HNRNPH3" class="n"><circle cx="613" cy="538" r="7"/><text x="613" y="538">HNRNPH3</text></g>
<g id="a-DKC1" class="n"><circle cx="740" cy="548" r="7"/><text x="740" y="548">DKC1</text></g>
<g id="a-CRELD1" class="n"><circle cx="672" cy="560" r="7"/><text x="672" y="560">CRELD1</text></g>
<g id="a-FEN1" class="n"><circle cx="623" cy="568" r="7"/><text x="623" y="568">FEN1</text></g>
<g id="a-RVD" class="n"><circle cx="773" cy="575" r="7"/><text x="773" y="575">RVD</text></g>
<g id="a-ENOX1" class="n"><circle cx="802" cy="582" r="7"/><text x="802" y="582">ENOX1</text></g>
<g id="a-HAP1" class="n"><circle cx="840" cy="578" r="7"/><text x="840" y="578">HAP1</text></g>
<g id="a-CCT7" class="n"><circle cx="698" cy="588" r="7"/><text x="698" y="588">CCT7</text></g>
<g id="a-FTR" class="n"><circle cx="730" cy="607" r="7"/><text x="730" y="607">FTR</text></g>
<g id="a-BAT3" class="n"><circle cx="693" cy="624" r="7"/><text x="693" y="624">BAT3</text></g>
<g id="a-APOA1" class="n"><circle cx="612" cy="627" r="7"/><text x="612" y="627">APOA1</text></g>
<g id="a-ZNF24" class="n"><circle cx="757" cy="628" r="7"/><text x="757" y="628">ZNF24</text></g>
<g id="a-SNAPIN" class="n"><circle cx="793" cy="634" r="7"/><text x="793" y="634">SNAPIN</text></g>
<g id="a-UCP1" class="n"><circle cx="638" cy="642" r="7"/><text x="638" y="642">UCP1</text></g>
<g id="a-TAF10" class="n"><circle cx="618" cy="659" r="7"/><text x="618" y="659">TAF10</text></g>
<g id="a-OTC" class="n"><circle cx="676" cy="659" r="7"/><text x="676" y="659">OTC</text></g>
<g id="a-CDC73" class="n"><circle cx="723" cy="656" r="7"/><text x="723" y="656">CDC73</text></g>
<g id="a-TRAPPC2" class="n"><circle cx="487" cy="673" r="7"/><text x="487" y="673">TRAPPC2</text></g>
<g id="a-SPINK7" class="n"><circle cx="587" cy="670" r="7"/><text x="587" y="670">SPINK7</text></g>
<g id="a-MPP6" class="n"><circle cx="534" cy="682" r="7"/><text x="534" y="682">MPP6</text></g>
<g id="a-PPHLN1" class="n"><circle cx="708" cy="675" r="7"/><text x="708" y="675">PPHLN1</text></g>
<g id="a-GADD45A" class="n"><circle cx="620" cy="687" r="7"/><text x="620" y="687">GADD45A</text></g>
<g id="a-BCL2" class="n"><circle cx="667" cy="687" r="7"/><text x="667" y="687">BCL2</text></g>
<g id="a-TOMM22" class="n"><circle cx="748" cy="692" r="7"/><text x="748" y="692">TOMM22</text></g>
<g id="a-KNG1" class="n"><circle cx="492" cy="700" r="7"/><text x="492" y="700">KNG1</text></g>
<g id="a-MAP3K12" class="n"><circle cx="562" cy="697" r="7"/><text x="562" y="697">MAP3K12</text></g>
<g id="a-FANCA" class="n"><circle cx="598" cy="708" r="7"/><text x="598" y="708">FANCA</text></g>
<g id="a-SKIL" class="n"><circle cx="627" cy="717" r="7"/><text x="627" y="717">SKIL</text></g>
<g id="a-NFE2L2" class="n"><circle cx="487" cy="727" r="7"/><text x="487" y="727">NFE2L2</text></g>
<g id="a-TRIM27" class="n"><circle cx="531" cy="726" r="7"/><text x="531" y="726">TRIM27</text></g>
<g id="a-CEBPE" class="n"><circle cx="580" cy="744" r="7"/><text x="580" y="744">CEBPE</text></g>
<g id="a-EIF1AX" class="g"><use xlink:href="#oct" x="377" y="185"/><text x="377" y="185">EIF1AX</text></g>
<g id="a-ETFB" class="g"><use xlink:href="#oct" x="297" y="238"/><text x="297" y="238">ETFB</text></g>
<g id="a-NDUFS2" class="g"><use xlink:href="#oct" x="283" y="315"/><text x="283" y="315">NDUFS2</text></g>
<g id="a-HM13" class="g"><use xlink:href="#oct" x="307" y="477"/><text x="307" y="477">HM13</text></g>
<g id="a-PSMA7" class="g"><use xlink:href="#oct" x="557" y="297"/><text x="557" y="297">PSMA7</text></g>
<g id="a-EEF1G" class="g"><use xlink:href="#oct" x="770" y="363"/><text x="770" y="363">EEF1G</text></g>
<g id="a-SLC25A5" class="g"><use xlink:href="#oct" x="363" y="662"/><text x="363" y="662">SLC25A5</text></g>
<g id="a-SERPINA1" class="g"><use xlink:href="#oct" x="370" y="720"/><text x="370" y="720">SERPINA1</text></g>
<g id="a-ENO1" class="g"><use xlink:href="#oct" x="498" y="620"/><text x="498" y="620">ENO1</text></g>
<g id="a-FTL" class="g"><use xlink:href="#oct" x="570" y="612"/><text x="570" y="612">FTL</text></g>
<g id="a-TOMM20" class="g"><use xlink:href="#oct" x="637" y="595"/><text x="637" y="595">TOMM20</text></g>
<g id="a-CORE" class="hub"><rect x="471" y="422" width="43" height="43" rx="8"/><text x="492" y="443">CORE</text></g>
</g>
<g id="nodes-b">
<g id="b-SLC27A4" class="n"><circle cx="342" cy="807" r="7"/><text x="342" y="807">SLC27A4</text></g>
<g id="b-DDOST" class="n"><circle cx="388" cy="815" r="7"/><text x="388" y="815">DDOST</text></g>
<g id="b-DFFA" class="n"><circle cx="435" cy="812" r="7"/><text x="435" y="812">DFFA</text></g>
<g id="b-ORMDL1" class="n"><circle cx="267" cy="822" r="7"/><text x="267" y="822">ORMDL1</text></g>
<g id="b-MTX1" class="n"><circle cx="307" cy="820" r="7"/><text x="307" y="820">MTX1</text></g>
<g id="b-SURF4" class="n"><circle cx="190" cy="836" r="7"/><text x="190" y="836">SURF4</text></g>
<g id="b-TMCO1" class="n"><circle cx="395" cy="836" r="7"/><text x="395" y="836">TMCO1</text></g>
<g id="b-FAM165B" class="n"><circle cx="430" cy="848" r="7"/><text x="430" y="848">FAM165B</text></g>
<g id="b-CCDC47" class="n"><circle cx="248" cy="850" r="7"/><text x="248" y="850">CCDC47</text></g>
<g id="b-MCC" class="n"><circle cx="472" cy="847" r="7"/><text x="472" y="847">MCC</text></g>
<g id="b-DAB2" class="n"><circle cx="508" cy="862" r="7"/><text x="508" y="862">DAB2</text></g>
<g id="b-DAB1" class="n"><circle cx="542" cy="867" r="7"/><text x="542" y="867">DAB1</text></g>
<g id="b-SFN" class="n"><circle cx="568" cy="873" r="7"/><text x="568" y="873">SFN</text></g>
<g id="b-DNM2" class="n"><circle cx="633" cy="863" r="7"/><text x="633" y="863">DNM2</text></g>
<g id="b-COX5A" class="n"><circle cx="200" cy="880" r="7"/><text x="200" y="880">COX5A</text></g>
<g id="b-SGPL1" class="n"><circle cx="253" cy="875" r="7"/><text x="253" y="875">SGPL1</text></g>
<g id="b-PSMB5" class="n"><circle cx="375" cy="880" r="7"/><text x="375" y="880">PSMB5</text></g>
<g id="b-SUN2" class="n"><circle cx="412" cy="873" r="7"/><text x="412" y="873">SUN2</text></g>
<g id="b-BRCA1" class="n"><circle cx="468" cy="882" r="7"/><text x="468" y="882">BRCA1</text></g>
<g id="b-TRIM47" class="n"><circle cx="500" cy="892" r="7"/><text x="500" y="892">TRIM47</text></g>
<g id="b-ZNF512B" class="n"><circle cx="667" cy="890" r="7"/><text x="667" y="890">ZNF512B</text></g>
<g id="b-PEBP1" class="n"><circle cx="292" cy="900" r="7"/><text x="292" y="900">PEBP1</text></g>
<g id="b-VHL" class="n"><circle cx="397" cy="902" r="7"/><text x="397" y="902">VHL</text></g>
<g id="b-TRIP13" class="n"><circle cx="257" cy="910" r="7"/><text x="257" y="910">TRIP13</text></g>
<g id="b-NDUFB6" class="n"><circle cx="342" cy="912" r="7"/><text x="342" y="912">NDUFB6</text></g>
<g id="b-PRMT1" class="n"><circle cx="577" cy="909" r="7"/><text x="577" y="909">PRMT1</text></g>
<g id="b-WDR48" class="n"><circle cx="460" cy="913" r="7"/><text x="460" y="913">WDR48</text></g>
<g id="b-ANXA2" class="n"><circle cx="215" cy="920" r="7"/><text x="215" y="920">ANXA2</text></g>
<g id="b-CMTM6" class="n"><circle cx="308" cy="927" r="7"/><text x="308" y="927">CMTM6</text></g>
<g id="b-C20orf24" class="n"><circle cx="162" cy="932" r="7"/><text x="162" y="932">C20orf24</text></g>
<g id="b-HNRNPL" class="n"><circle cx="433" cy="930" r="7"/><text x="433" y="930">HNRNPL</text></g>
<g id="b-NR4A1" class="n"><circle cx="485" cy="935" r="7"/><text x="485" y="935">NR4A1</text></g>
<g id="b-KIAA0090" class="n"><circle cx="107" cy="943" r="7"/><text x="107" y="943">KIAA0090</text></g>
<g id="b-PRPSAP1" class="n"><circle cx="270" cy="943" r="7"/><text x="270" y="943">PRPSAP1</text></g>
<g id="b-TRIM6" class="n"><circle cx="412" cy="945" r="7"/><text x="412" y="945">TRIM6</text></g>
<g id="b-COX4I1" class="n"><circle cx="200" cy="953" r="7"/><text x="200" y="953">COX4I1</text></g>
<g id="b-UBE2D3" class="n"><circle cx="330" cy="957" r="7"/><text x="330" y="957">UBE2D3</text></g>
<g id="b-PPIA" class="n"><circle cx="495" cy="957" r="7"/><text x="495" y="957">PPIA</text></g>
<g id="b-APBB3" class="n"><circle cx="588" cy="957" r="7"/><text x="588" y="957">APBB3</text></g>
<g id="b-LIPC" class="n"><circle cx="293" cy="972" r="7"/><text x="293" y="972">LIPC</text></g>
<g id="b-PINX1" class="n"><circle cx="370" cy="968" r="7"/><text x="370" y="968">PINX1</text></g>
<g id="b-IKBKE" class="n"><circle cx="422" cy="973" r="7"/><text x="422" y="973">IKBKE</text></g>
<g id="b-PDIA4" class="n"><circle cx="458" cy="973" r="7"/><text x="458" y="973">PDIA4</text></g>
<g id="b-TH1L" class="n"><circle cx="165" cy="977" r="7"/><text x="165" y="977">TH1L</text></g>
<g id="b-USP21" class="n"><circle cx="347" cy="983" r="7"/><text x="347" y="983">USP21</text></g>
<g id="b-APBB1" class="n"><circle cx="572" cy="980" r="7"/><text x="572" y="980">APBB1</text></g>
<g id="b-B3GALT1" class="n"><circle cx="667" cy="980" r="7"/><text x="667" y="980">B3GALT1</text></g>
<g id="b-MFN1" class="n"><circle cx="118" cy="990" r="7"/><text x="118" y="990">MFN1</text></g>
<g id="b-RANGAP1" class="n"><circle cx="203" cy="988" r="7"/><text x="203" y="988">RANGAP1</text></g>
<g id="b-TXN" class="n"><circle cx="247" cy="983" r="7"/><text x="247" y="983">TXN</text></g>
<g id="b-APP" class="n"><circle cx="502" cy="995" r="7"/><text x="502" y="995">APP</text></g>
<g id="b-PRKAB1" class="n"><circle cx="312" cy="1002" r="7"/><text x="312" y="1002">PRKAB1</text></g>
<g id="b-PRL" class="n"><circle cx="368" cy="1002" r="7"/><text x="368" y="1002">PRL</text></g>
<g id="b-UBQLN1" class="n"><circle cx="413" cy="1003" r="7"/><text x="413" y="1003">UBQLN1</text></g>
<g id="b-HSP90B1" class="n"><circle cx="585" cy="1003" r="7"/><text x="585" y="1003">HSP90B1</text></g>
<g id="b-HGS" class="n"><circle cx="540" cy="1008" r="7"/><text x="540" y="1008">HGS</text></g>
<g id="b-HSPA8" class="n"><circle cx="175" cy="1022" r="7"/><text x="175" y="1022">HSPA8</text></g>
<g id="b-UBE2H" class="n"><circle cx="357" cy="1022" r="7"/><text x="357" y="1022">UBE2H</text></g>
<g id="b-SHBG" class="n"><circle cx="482" cy="1020" r="7"/><text x="482" y="1020">SHBG</text></g>
<g id="b-SSR4" class="n"><circle cx="115" cy="1032" r="7"/><text x="115" y="1032">SSR4</text></g>
<g id="b-RPL22" class="n"><circle cx="275" cy="1032" r="7"/><text x="275" y="1032">RPL22</text></g>
<g id="b-TRAF6" class="n"><circle cx="407" cy="1033" r="7"/><text x="407" y="1033">TRAF6</text></g>
<g id="b-CCR1" class="n"><circle cx="527" cy="1027" r="7"/><text x="527" y="1027">CCR1</text></g>
<g id="b-STAT4" class="n"><circle cx="568" cy="1027" r="7"/><text x="568" y="1027">STAT4</text></g>
<g id="b-TRAF1" class="n"><circle cx="247" cy="1050" r="7"/><text x="247" y="1050">TRAF1</text></g>
<g id="b-CAMLG" class="n"><circle cx="438" cy="1057" r="7"/><text x="438" y="1057">CAMLG</text></g>
<g id="b-E2F6" class="n"><circle cx="620" cy="1058" r="7"/><text x="620" y="1058">E2F6</text></g>
<g id="b-ERBB2" class="n"><circle cx="673" cy="1060" r="7"/><text x="673" y="1060">ERBB2</text></g>
<g id="b-FTSJ1" class="n"><circle cx="113" cy="1068" r="7"/><text x="113" y="1068">FTSJ1</text></g>
<g id="b-NME2" class="n"><circle cx="187" cy="1067" r="7"/><text x="187" y="1067">NME2</text></g>
<g id="b-PTGS2" class="n"><circle cx="730" cy="1070" r="7"/><text x="730" y="1070">PTGS2</text></g>
<g id="b-RRP1B" class="n"><circle cx="232" cy="1073" r="7"/><text x="232" y="1073">RRP1B</text></g>
<g id="b-SP1" class="n"><circle cx="268" cy="1075" r="7"/><text x="268" y="1075">SP1</text></g>
<g id="b-CYCS" class="n"><circle cx="452" cy="1083" r="7"/><text x="452" y="1083">CYCS</text></g>
<g id="b-TRIM3" class="n"><circle cx="697" cy="1082" r="7"/><text x="697" y="1082">TRIM3</text></g>
<g id="b-TSC22D1" class="n"><circle cx="72" cy="1087" r="7"/><text x="72" y="1087">TSC22D1</text></g>
<g id="b-TNFRSF14" class="n"><circle cx="162" cy="1087" r="7"/><text x="162" y="1087">TNFRSF14</text></g>
<g id="b-PTGS1" class="n"><circle cx="757" cy="1087" r="7"/><text x="757" y="1087">PTGS1</text></g>
<g id="b-RPN2" class="n"><circle cx="117" cy="1098" r="7"/><text x="117" y="1098">RPN2</text></g>
<g id="b-KPNB1" class="n"><circle cx="218" cy="1098" r="7"/><text x="218" y="1098">KPNB1</text></g>
<g id="b-BGN" class="n"><circle cx="668" cy="1097" r="7"/><text x="668" y="1097">BGN</text></g>
<g id="b-MTTP" class="n"><circle cx="622" cy="1112" r="7"/><text x="622" y="1112">MTTP</text></g>
<g id="b-SEC61B" class="n"><circle cx="665" cy="1118" r="7"/><text x="665" y="1118">SEC61B</text></g>
<g id="b-GNAI2" class="n"><circle cx="762" cy="1122" r="7"/><text x="762" y="1122">GNAI2</text></g>
<g id="b-HLA-B" class="n"><circle cx="387" cy="1130" r="7"/><text x="387" y="1130">HLA-B</text></g>
<g id="b-CANX" class="n"><circle cx="358" cy="1143" r="7"/><text x="358" y="1143">CANX</text></g>
<g id="b-SEC61A1" class="n"><circle cx="643" cy="1148" r="7"/><text x="643" y="1148">SEC61A1</text></g>
<g id="b-KLHL13" class="n"><circle cx="758" cy="1155" r="7"/><text x="758" y="1155">KLHL13</text></g>
<g id="b-PXN" class="n"><circle cx="173" cy="1155" r="7"/><text x="173" y="1155">PXN</text></g>
<g id="b-IKBKAP" class="n"><circle cx="403" cy="1162" r="7"/><text x="403" y="1162">IKBKAP</text></g>
<g id="b-TOMM20" class="n"><circle cx="672" cy="1168" r="7"/><text x="672" y="1168">TOMM20</text></g>
<g id="b-CD40LG" class="n"><circle cx="718" cy="1182" r="7"/><text x="718" y="1182">CD40LG</text></g>
<g id="b-LIN54" class="n"><circle cx="673" cy="1188" r="7"/><text x="673" y="1188">LIN54</text></g>
<g id="b-CALCR" class="n"><circle cx="523" cy="1202" r="7"/><text x="523" y="1202">CALCR</text></g>
<g id="b-FANCG" class="n"><circle cx="573" cy="1205" r="7"/><text x="573" y="1205">FANCG</text></g>
<g id="b-GPLD1" class="n"><circle cx="643" cy="1207" r="7"/><text x="643" y="1207">GPLD1</text></g>
<g id="b-SAA2" class="n"><circle cx="690" cy="1207" r="7"/><text x="690" y="1207">SAA2</text></g>
<g id="b-APOL1" class="n"><circle cx="728" cy="1205" r="7"/><text x="728" y="1205">APOL1</text></g>
<g id="b-MTNR1B" class="n"><circle cx="175" cy="1208" r="7"/><text x="175" y="1208">MTNR1B</text></g>
<g id="b-CP" class="n"><circle cx="755" cy="1213" r="7"/><text x="755" y="1213">CP</text></g>
<g id="b-CFTR" class="n"><circle cx="340" cy="1215" r="7"/><text x="340" y="1215">CFTR</text></g>
<g id="b-SERTAD3" class="n"><circle cx="803" cy="1222" r="7"/><text x="803" y="1222">SERTAD3</text></g>
<g id="b-VANGL1" class="n"><circle cx="718" cy="1225" r="7"/><text x="718" y="1225">VANGL1</text></g>
<g id="b-POR" class="n"><circle cx="561" cy="1235" r="7"/><text x="561" y="1235">POR</text></g>
<g id="b-TNS3" class="n"><circle cx="667" cy="1230" r="7"/><text x="667" y="1230">TNS3</text></g>
<g id="b-C1QA" class="n"><circle cx="748" cy="1235" r="7"/><text x="748" y="1235">C1QA</text></g>
<g id="b-BAT5" class="n"><circle cx="162" cy="1238" r="7"/><text x="162" y="1238">BAT5</text></g>
<g id="b-CD4" class="n"><circle cx="702" cy="1245" r="7"/><text x="702" y="1245">CD4</text></g>
<g id="b-CLU" class="n"><circle cx="780" cy="1248" r="7"/><text x="780" y="1248">CLU</text></g>
<g id="b-PLTP" class="n"><circle cx="672" cy="1253" r="7"/><text x="672" y="1253">PLTP</text></g>
<g id="b-ERBB3" class="n"><circle cx="567" cy="1257" r="7"/><text x="567" y="1257">ERBB3</text></g>
<g id="b-SLC40A1" class="n"><circle cx="155" cy="1263" r="7"/><text x="155" y="1263">SLC40A1</text></g>
<g id="b-ROBO3" class="n"><circle cx="820" cy="1263" r="7"/><text x="820" y="1263">ROBO3</text></g>
<g id="b-TNFRSF10C" class="n"><circle cx="633" cy="1265" r="7"/><text x="633" y="1265">TNFRSF10C</text></g>
<g id="b-APOA1BP" class="n"><circle cx="725" cy="1265" r="7"/><text x="725" y="1265">APOA1BP</text></g>
<g id="b-ABCA6" class="n"><circle cx="783" cy="1270" r="7"/><text x="783" y="1270">ABCA6</text></g>
<g id="b-QDPR" class="n"><circle cx="755" cy="1282" r="7"/><text x="755" y="1282">QDPR</text></g>
<g id="b-MTNR1A" class="n"><circle cx="180" cy="1283" r="7"/><text x="180" y="1283">MTNR1A</text></g>
<g id="b-HLA-DOB" class="n"><circle cx="582" cy="1285" r="7"/><text x="582" y="1285">HLA-DOB</text></g>
<g id="b-SAFB2" class="n"><circle cx="635" cy="1287" r="7"/><text x="635" y="1287">SAFB2</text></g>
<g id="b-EGFR" class="n"><circle cx="717" cy="1288" r="7"/><text x="717" y="1288">EGFR</text></g>
<g id="b-NLRP1" class="n"><circle cx="790" cy="1300" r="7"/><text x="790" y="1300">NLRP1</text></g>
<g id="b-LECT1" class="n"><circle cx="623" cy="1303" r="7"/><text x="623" y="1303">LECT1</text></g>
<g id="b-CD46" class="n"><circle cx="752" cy="1307" r="7"/><text x="752" y="1307">CD46</text></g>
<g id="b-EPM2AIP1" class="n"><circle cx="348" cy="1310" r="7"/><text x="348" y="1310">EPM2AIP1</text></g>
<g id="b-MAP7D1" class="n"><circle cx="698" cy="1310" r="7"/><text x="698" y="1310">MAP7D1</text></g>
<g id="b-IGSF8" class="n"><circle cx="570" cy="1312" r="7"/><text x="570" y="1312">IGSF8</text></g>
<g id="b-NUP88" class="n"><circle cx="655" cy="1320" r="7"/><text x="655" y="1320">NUP88</text></g>
<g id="b-ABCA1" class="n"><circle cx="807" cy="1320" r="7"/><text x="807" y="1320">ABCA1</text></g>
<g id="b-LBP" class="n"><circle cx="733" cy="1325" r="7"/><text x="733" y="1325">LBP</text></g>
<g id="b-APOF" class="n"><circle cx="770" cy="1328" r="7"/><text x="770" y="1328">APOF</text></g>
<g id="b-FHOD1" class="n"><circle cx="243" cy="1330" r="7"/><text x="243" y="1330">FHOD1</text></g>
<g id="b-TNFAIP3" class="n"><circle cx="458" cy="1332" r="7"/><text x="458" y="1332">TNFAIP3</text></g>
<g id="b-ITGAL" class="n"><circle cx="533" cy="1333" r="7"/><text x="533" y="1333">ITGAL</text></g>
<g id="b-EBPL" class="n"><circle cx="138" cy="1335" r="7"/><text x="138" y="1335">EBPL</text></g>
<g id="b-YIPF2" class="n"><circle cx="383" cy="1338" r="7"/><text x="383" y="1338">YIPF2</text></g>
<g id="b-HLA-DMB" class="n"><circle cx="577" cy="1338" r="7"/><text x="577" y="1338">HLA-DMB</text></g>
<g id="b-CD9" class="n"><circle cx="615" cy="1338" r="7"/><text x="615" y="1338">CD9</text></g>
<g id="b-FAM83C" class="n"><circle cx="815" cy="1340" r="7"/><text x="815" y="1340">FAM83C</text></g>
<g id="b-HBEGF" class="n"><circle cx="708" cy="1343" r="7"/><text x="708" y="1343">HBEGF</text></g>
<g id="b-ITGB1" class="n"><circle cx="653" cy="1347" r="7"/><text x="653" y="1347">ITGB1</text></g>
<g id="b-MOCOS" class="n"><circle cx="772" cy="1347" r="7"/><text x="772" y="1347">MOCOS</text></g>
<g id="b-UBE2E3" class="n"><circle cx="208" cy="1355" r="7"/><text x="208" y="1355">UBE2E3</text></g>
<g id="b-DERL1" class="n"><circle cx="330" cy="1354" r="7"/><text x="330" y="1354">DERL1</text></g>
<g id="b-FAM169A" class="n"><circle cx="813" cy="1363" r="7"/><text x="813" y="1363">FAM169A</text></g>
<g id="b-DNTT" class="n"><circle cx="755" cy="1367" r="7"/><text x="755" y="1367">DNTT</text></g>
<g id="b-SSR1" class="n"><circle cx="360" cy="1370" r="7"/><text x="360" y="1370">SSR1</text></g>
<g id="b-AKR7A2" class="n"><circle cx="403" cy="1370" r="7"/><text x="403" y="1370">AKR7A2</text></g>
<g id="b-TTR" class="n"><circle cx="468" cy="1372" r="7"/><text x="468" y="1372">TTR</text></g>
<g id="b-HLA-DRA" class="n"><circle cx="567" cy="1372" r="7"/><text x="567" y="1372">HLA-DRA</text></g>
<g id="b-CD151" class="n"><circle cx="640" cy="1372" r="7"/><text x="640" y="1372">CD151</text></g>
<g id="b-LCAT" class="n"><circle cx="707" cy="1370" r="7"/><text x="707" y="1370">LCAT</text></g>
<g id="b-UBE2D2" class="n"><circle cx="258" cy="1377" r="7"/><text x="258" y="1377">UBE2D2</text></g>
<g id="b-CD19" class="n"><circle cx="605" cy="1380" r="7"/><text x="605" y="1380">CD19</text></g>
<g id="b-SMPDL3A" class="n"><circle cx="795" cy="1382" r="7"/><text x="795" y="1382">SMPDL3A</text></g>
<g id="b-UBE2J1" class="n"><circle cx="213" cy="1385" r="7"/><text x="213" y="1385">UBE2J1</text></g>
<g id="b-AMFR" class="n"><circle cx="312" cy="1392" r="7"/><text x="312" y="1392">AMFR</text></g>
<g id="b-TIMP1" class="n"><circle cx="502" cy="1393" r="7"/><text x="502" y="1393">TIMP1</text></g>
<g id="b-CPB2" class="n"><circle cx="380" cy="1395" r="7"/><text x="380" y="1395">CPB2</text></g>
<g id="b-ITGA2B" class="n"><circle cx="443" cy="1395" r="7"/><text x="443" y="1395">ITGA2B</text></g>
<g id="b-KIT" class="n"><circle cx="560" cy="1397" r="7"/><text x="560" y="1397">KIT</text></g>
<g id="b-PDE1A" class="n"><circle cx="768" cy="1397" r="7"/><text x="768" y="1397">PDE1A</text></g>
<g id="b-UBE2E1" class="n"><circle cx="273" cy="1398" r="7"/><text x="273" y="1398">UBE2E1</text></g>
<g id="b-SRF" class="n"><circle cx="530" cy="1402" r="7"/><text x="530" y="1402">SRF</text></g>
<g id="b-USP53" class="n"><circle cx="723" cy="1403" r="7"/><text x="723" y="1403">USP53</text></g>
<g id="b-PLAT" class="n"><circle cx="348" cy="1405" r="7"/><text x="348" y="1405">PLAT</text></g>
<g id="b-PTGFRN" class="n"><circle cx="608" cy="1407" r="7"/><text x="608" y="1407">PTGFRN</text></g>
<g id="b-CALR" class="n"><circle cx="147" cy="1408" r="7"/><text x="147" y="1408">CALR</text></g>
<g id="b-PRTN3" class="n"><circle cx="507" cy="1418" r="7"/><text x="507" y="1418">PRTN3</text></g>
<g id="b-TSC1" class="n"><circle cx="568" cy="1422" r="7"/><text x="568" y="1422">TSC1</text></g>
<g id="b-SERPINE1" class="n"><circle cx="292" cy="1423" r="7"/><text x="292" y="1423">SERPINE1</text></g>
<g id="b-F2R" class="n"><circle cx="445" cy="1427" r="7"/><text x="445" y="1427">F2R</text></g>
<g id="b-PRSS3" class="n"><circle cx="595" cy="1437" r="7"/><text x="595" y="1437">PRSS3</text></g>
<g id="b-F5" class="n"><circle cx="273" cy="1445" r="7"/><text x="273" y="1445">F5</text></g>
<g id="b-F2RL1" class="n"><circle cx="448" cy="1450" r="7"/><text x="448" y="1450">F2RL1</text></g>
<g id="b-F11" class="n"><circle cx="332" cy="1455" r="7"/><text x="332" y="1455">F11</text></g>
<g id="b-CTSG" class="n"><circle cx="475" cy="1462" r="7"/><text x="475" y="1462">CTSG</text></g>
<g id="b-KLK3" class="n"><circle cx="518" cy="1472" r="7"/><text x="518" y="1472">KLK3</text></g>
<g id="b-VTN" class="n"><circle cx="318" cy="1473" r="7"/><text x="318" y="1473">VTN</text></g>
<g id="b-SERPIND1" class="n"><circle cx="447" cy="1482" r="7"/><text x="447" y="1482">SERPIND1</text></g>
<g id="b-KRT16" class="n"><circle cx="590" cy="1483" r="7"/><text x="590" y="1483">KRT16</text></g>
<g id="b-KLK13" class="n"><circle cx="535" cy="1488" r="7"/><text x="535" y="1488">KLK13</text></g>
<g id="b-PROZ" class="n"><circle cx="352" cy="1488" r="7"/><text x="352" y="1488">PROZ</text></g>
<g id="b-F13B" class="n"><circle cx="222" cy="1492" r="7"/><text x="222" y="1492">F13B</text></g>
<g id="b-THBD" class="n"><circle cx="423" cy="1498" r="7"/><text x="423" y="1498">THBD</text></g>
<g id="b-ITGB3" class="n"><circle cx="305" cy="1500" r="7"/><text x="305" y="1500">ITGB3</text></g>
<g id="b-APOC1" class="n"><circle cx="653" cy="1508" r="7"/><text x="653" y="1508">APOC1</text></g>
<g id="b-THBS1" class="n"><circle cx="397" cy="1515" r="7"/><text x="397" y="1515">THBS1</text></g>
<g id="b-LRP1" class="n"><circle cx="552" cy="1515" r="7"/><text x="552" y="1515">LRP1</text></g>
<g id="b-SERPINB6" class="n"><circle cx="338" cy="1520" r="7"/><text x="338" y="1520">SERPINB6</text></g>
<g id="b-ELANE" class="n"><circle cx="595" cy="1523" r="7"/><text x="595" y="1523">ELANE</text></g>
<g id="b-TF" class="n"><circle cx="455" cy="1527" r="7"/><text x="455" y="1527">TF</text></g>
<g id="b-KHDRBS2" class="n"><circle cx="275" cy="1530" r="7"/><text x="275" y="1530">KHDRBS2</text></g>
<g id="b-GP1BA" class="n"><circle cx="422" cy="1530" r="7"/><text x="422" y="1530">GP1BA</text></g>
<g id="b-C1QC" class="n"><circle cx="537" cy="1533" r="7"/><text x="537" y="1533">C1QC</text></g>
<g id="b-FGB" class="n"><circle cx="237" cy="1540" r="7"/><text x="237" y="1540">FGB</text></g>
<g id="b-AANAT" class="n"><circle cx="373" cy="1540" r="7"/><text x="373" y="1540">AANAT</text></g>
<g id="b-KRT9" class="n"><circle cx="635" cy="1552" r="7"/><text x="635" y="1552">KRT9</text></g>
<g id="b-FGA" class="n"><circle cx="330" cy="1553" r="7"/><text x="330" y="1553">FGA</text></g>
<g id="b-APOC3" class="n"><circle cx="572" cy="1553" r="7"/><text x="572" y="1553">APOC3</text></g>
<g id="b-SERPINC1" class="n"><circle cx="408" cy="1555" r="7"/><text x="408" y="1555">SERPINC1</text></g>
<g id="b-SERPING1" class="n"><circle cx="345" cy="1572" r="7"/><text x="345" y="1572">SERPING1</text></g>
<g id="b-PDE4B" class="n"><circle cx="602" cy="1572" r="7"/><text x="602" y="1572">PDE4B</text></g>
<g id="b-ALB" class="n"><circle cx="465" cy="1577" r="7"/><text x="465" y="1577">ALB</text></g>
<g id="b-MASP1" class="n"><circle cx="402" cy="1580" r="7"/><text x="402" y="1580">MASP1</text></g>
<g id="b-CTSL1" class="n"><circle cx="542" cy="1585" r="7"/><text x="542" y="1585">CTSL1</text></g>
<g id="b-MASP2" class="n"><circle cx="438" cy="1593" r="7"/><text x="438" y="1593">MASP2</text></g>
<g id="b-TMBIM4" class="g"><use xlink:href="#oct" x="352" y="845"/><text x="352" y="845">TMBIM4</text></g>
<g id="b-APLP2" class="g"><use xlink:href="#oct" x="528" y="953"/><text x="528" y="953">APLP2</text></g>
<g id="b-UGT1A1" class="g"><use xlink:href="#oct" x="637" y="1018"/><text x="637" y="1018">UGT1A1</text></g>
<g id="b-MFSD5" class="g"><use xlink:href="#oct" x="325" y="1057"/><text x="325" y="1057">MFSD5</text></g>
<g id="b-CD99" class="g"><use xlink:href="#oct" x="377" y="1072"/><text x="377" y="1072">CD99</text></g>
<g id="b-PLP2" class="g"><use xlink:href="#oct" x="478" y="1068"/><text x="478" y="1068">PLP2</text></g>
<g id="b-PON3" class="g"><use xlink:href="#oct" x="557" y="1073"/><text x="557" y="1073">PON3</text></g>
<g id="b-FGL1" class="g"><use xlink:href="#oct" x="635" y="1085"/><text x="635" y="1085">FGL1</text></g>
<g id="b-REEP5" class="g"><use xlink:href="#oct" x="590" y="1093"/><text x="590" y="1093">REEP5</text></g>
<g id="b-UGT1A4" class="g"><use xlink:href="#oct" x="513" y="1103"/><text x="513" y="1103">UGT1A4</text></g>
<g id="b-ND4" class="g"><use xlink:href="#oct" x="333" y="1110"/><text x="333" y="1110">ND4</text></g>
<g id="b-PPIB" class="g"><use xlink:href="#oct" x="413" y="1105"/><text x="413" y="1105">PPIB</text></g>
<g id="b-CYB5A" class="g"><use xlink:href="#oct" x="460" y="1125"/><text x="460" y="1125">CYB5A</text></g>
<g id="b-NUCB1" class="g"><use xlink:href="#oct" x="722" y="1110"/><text x="722" y="1110">NUCB1</text></g>
<g id="b-KRTCAP2" class="g"><use xlink:href="#oct" x="130" y="1132"/><text x="130" y="1132">KRTCAP2</text></g>
<g id="b-PDIA6" class="g"><use xlink:href="#oct" x="230" y="1127"/><text x="230" y="1127">PDIA6</text></g>
<g id="b-C15orf24" class="g"><use xlink:href="#oct" x="293" y="1125"/><text x="293" y="1125">C15orf24</text></g>
<g id="b-APOB" class="g"><use xlink:href="#oct" x="592" y="1133"/><text x="592" y="1133">APOB</text></g>
<g id="b-ZMYM6" class="g"><use xlink:href="#oct" x="710" y="1150"/><text x="710" y="1150">ZMYM6</text></g>
<g id="b-COX2" class="g"><use xlink:href="#oct" x="253" y="1168"/><text x="253" y="1168">COX2</text></g>
<g id="b-RBP4" class="g"><use xlink:href="#oct" x="577" y="1170"/><text x="577" y="1170">RBP4</text></g>
<g id="b-C6orf129" class="g"><use xlink:href="#oct" x="150" y="1177"/><text x="150" y="1177">C6orf129</text></g>
<g id="b-SLC4A2" class="g"><use xlink:href="#oct" x="622" y="1183"/><text x="622" y="1183">SLC4A2</text></g>
<g id="b-TMX2" class="g"><use xlink:href="#oct" x="768" y="1188"/><text x="768" y="1188">TMX2</text></g>
<g id="b-METTL7B" class="g"><use xlink:href="#oct" x="295" y="1195"/><text x="295" y="1195">METTL7B</text></g>
<g id="b-OCIAD2" class="g"><use xlink:href="#oct" x="235" y="1215"/><text x="235" y="1215">OCIAD2</text></g>
<g id="b-CYP2E1" class="g"><use xlink:href="#oct" x="522" y="1232"/><text x="522" y="1232">CYP2E1</text></g>
<g id="b-APOA1" class="g"><use xlink:href="#oct" x="603" y="1232"/><text x="603" y="1232">APOA1</text></g>
<g id="b-HAMP" class="g"><use xlink:href="#oct" x="203" y="1245"/><text x="203" y="1245">HAMP</text></g>
<g id="b-LRG1" class="g"><use xlink:href="#oct" x="303" y="1238"/><text x="303" y="1238">LRG1</text></g>
<g id="b-SLC39A1" class="g"><use xlink:href="#oct" x="407" y="1260"/><text x="407" y="1260">SLC39A1</text></g>
<g id="b-EMP2" class="g"><use xlink:href="#oct" x="357" y="1270"/><text x="357" y="1270">EMP2</text></g>
<g id="b-ATP5G2" class="g"><use xlink:href="#oct" x="228" y="1277"/><text x="228" y="1277">ATP5G2</text></g>
<g id="b-CLPTM1" class="g"><use xlink:href="#oct" x="307" y="1280"/><text x="307" y="1280">CLPTM1</text></g>
<g id="b-GLDC" class="g"><use xlink:href="#oct" x="462" y="1290"/><text x="462" y="1290">GLDC</text></g>
<g id="b-CD82" class="g"><use xlink:href="#oct" x="523" y="1297"/><text x="523" y="1297">CD82</text></g>
<g id="b-YIPF6" class="g"><use xlink:href="#oct" x="420" y="1300"/><text x="420" y="1300">YIPF6</text></g>
<g id="b-EBP" class="g"><use xlink:href="#oct" x="185" y="1320"/><text x="185" y="1320">EBP</text></g>
<g id="b-RNF5" class="g"><use xlink:href="#oct" x="290" y="1345"/><text x="290" y="1345">RNF5</text></g>
<g id="b-CD63" class="g"><use xlink:href="#oct" x="502" y="1350"/><text x="502" y="1350">CD63</text></g>
<g id="b-AZGP1" class="g"><use xlink:href="#oct" x="682" y="1437"/><text x="682" y="1437">AZGP1</text></g>
<g id="b-F2" class="g"><use xlink:href="#oct" x="405" y="1448"/><text x="405" y="1448">F2</text></g>
<g id="b-SERPINA1" class="g"><use xlink:href="#oct" x="558" y="1458"/><text x="558" y="1458">SERPINA1</text></g>
<g id="b-FGG" class="g"><use xlink:href="#oct" x="265" y="1483"/><text x="265" y="1483">FGG</text></g>
<g id="b-FCN2" class="g"><use xlink:href="#oct" x="497" y="1507"/><text x="497" y="1507">FCN2</text></g>
<g id="b-NS4B" class="hub"><rect x="443" y="1173" width="51" height="48" rx="9"/><text x="468" y="1197">NS4B</text></g>
</g>
</svg>
